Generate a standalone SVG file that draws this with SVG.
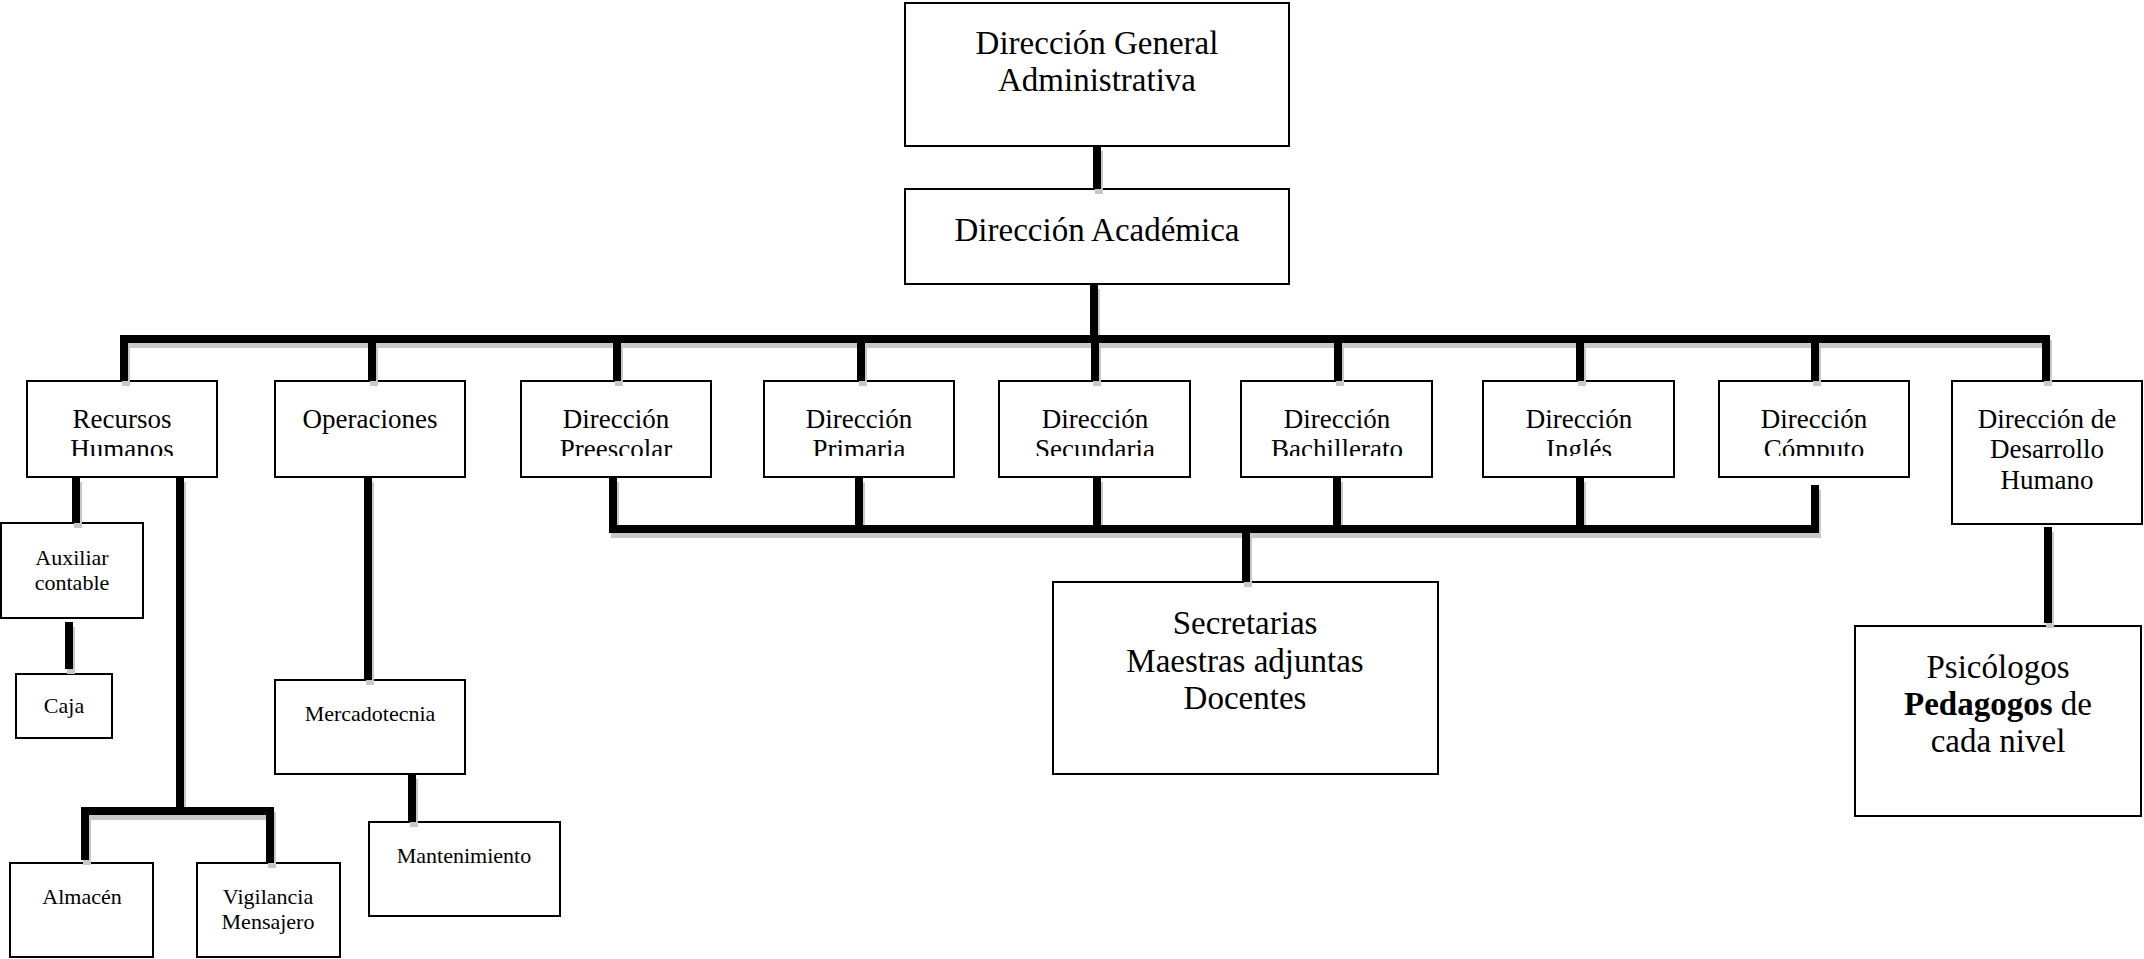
<svg xmlns="http://www.w3.org/2000/svg" width="2144" height="959" viewBox="0 0 2144 959">
<style>
.box{fill:#fff;stroke:#000;stroke-width:2}
text{font-family:"Liberation Serif","DejaVu Serif",serif;fill:#000;text-anchor:middle}
.xl{font-size:33px}
.md{font-size:27px}
.sm{font-size:22px}
.c{fill:none;stroke:#000;stroke-width:8;stroke-linecap:butt;stroke-linejoin:miter}
.s{fill:none;stroke:#c8c8c8;stroke-width:8;stroke-linecap:butt;stroke-linejoin:miter}
</style>
<defs>
<clipPath id="clip2"><rect x="0" y="381" width="2144" height="75"/></clipPath>
<g id="conn">
<path d="M1097,146V189"/>
<path d="M1094,284V339"/>
<path d="M124,381V339H2046V381"/>
<path d="M372,339V381M617,339V381M861,339V381M1095,339V381M1338,339V381M1580,339V381M1815,339V381"/>
<path d="M613,477V529H1815V485"/>
<path d="M859,477V529M1097,477V529M1337,477V529M1580,477V529"/>
<path d="M1246,529V582"/>
<path d="M76,477V523"/>
<path d="M69,622V669"/>
<path d="M180,477V811"/>
<path d="M85,860V811H270V863"/>
<path d="M368,477V680"/>
<path d="M412,774V822"/>
<path d="M2048,527V623"/>
</g>
</defs>
<g id="nodes">
<g id="n-general"><rect class="box" x="905" y="3" width="384" height="143"/><text class="xl" x="1097" y="54">Dirección General</text><text class="xl" x="1097" y="91">Administrativa</text></g>
<g id="n-academica"><rect class="box" x="905" y="189" width="384" height="95"/><text class="xl" x="1097" y="241">Dirección Académica</text></g>
<g id="n-rh"><rect class="box" x="27" y="381" width="190" height="96"/><text class="md" x="122" y="428">Recursos</text><text class="md" x="122" y="458" clip-path="url(#clip2)">Humanos</text></g>
<g id="n-operaciones"><rect class="box" x="275" y="381" width="190" height="96"/><text class="md" x="370" y="428">Operaciones</text></g>
<g id="n-preescolar"><rect class="box" x="521" y="381" width="190" height="96"/><text class="md" x="616" y="428">Dirección</text><text class="md" x="616" y="458" clip-path="url(#clip2)">Preescolar</text></g>
<g id="n-primaria"><rect class="box" x="764" y="381" width="190" height="96"/><text class="md" x="859" y="428">Dirección</text><text class="md" x="859" y="458" clip-path="url(#clip2)">Primaria</text></g>
<g id="n-secundaria"><rect class="box" x="999" y="381" width="191" height="96"/><text class="md" x="1095" y="428">Dirección</text><text class="md" x="1095" y="458" clip-path="url(#clip2)">Secundaria</text></g>
<g id="n-bachillerato"><rect class="box" x="1241" y="381" width="191" height="96"/><text class="md" x="1337" y="428">Dirección</text><text class="md" x="1337" y="458" clip-path="url(#clip2)">Bachillerato</text></g>
<g id="n-ingles"><rect class="box" x="1483" y="381" width="191" height="96"/><text class="md" x="1579" y="428">Dirección</text><text class="md" x="1579" y="458" clip-path="url(#clip2)">Inglés</text></g>
<g id="n-computo"><rect class="box" x="1719" y="381" width="190" height="96"/><text class="md" x="1814" y="428">Dirección</text><text class="md" x="1814" y="458" clip-path="url(#clip2)">Cómputo</text></g>
<g id="n-desarrollo"><rect class="box" x="1952" y="381" width="190" height="143"/><text class="md" x="2047" y="428">Dirección de</text><text class="md" x="2047" y="458">Desarrollo</text><text class="md" x="2047" y="489">Humano</text></g>
<g id="n-auxiliar"><rect class="box" x="1" y="523" width="142" height="95"/><text class="sm" x="72" y="565">Auxiliar</text><text class="sm" x="72" y="590">contable</text></g>
<g id="n-caja"><rect class="box" x="16" y="674" width="96" height="64"/><text class="sm" x="64" y="713">Caja</text></g>
<g id="n-mercadotecnia"><rect class="box" x="275" y="680" width="190" height="94"/><text class="sm" x="370" y="721">Mercadotecnia</text></g>
<g id="n-mantenimiento"><rect class="box" x="369" y="822" width="191" height="94"/><text class="sm" x="464" y="863">Mantenimiento</text></g>
<g id="n-almacen"><rect class="box" x="10" y="863" width="143" height="94"/><text class="sm" x="82" y="904">Almacén</text></g>
<g id="n-vigilancia"><rect class="box" x="197" y="863" width="143" height="94"/><text class="sm" x="268" y="904">Vigilancia</text><text class="sm" x="268" y="929">Mensajero</text></g>
<g id="n-secretarias"><rect class="box" x="1053" y="582" width="385" height="192"/><text class="xl" x="1245" y="634">Secretarias</text><text class="xl" x="1245" y="672">Maestras adjuntas</text><text class="xl" x="1245" y="709">Docentes</text></g>
<g id="n-psicologos"><rect class="box" x="1855" y="626" width="286" height="190"/><text class="xl" x="1998" y="678">Psicólogos</text><text class="xl" x="1998" y="715"><tspan font-weight="bold">Pedagogos</tspan> de</text><text class="xl" x="1998" y="752">cada nivel</text></g>
</g>
<g id="connectors">
<use href="#conn" class="s" transform="translate(2,5)"/>
<use href="#conn" class="c"/>
</g>
</svg>
